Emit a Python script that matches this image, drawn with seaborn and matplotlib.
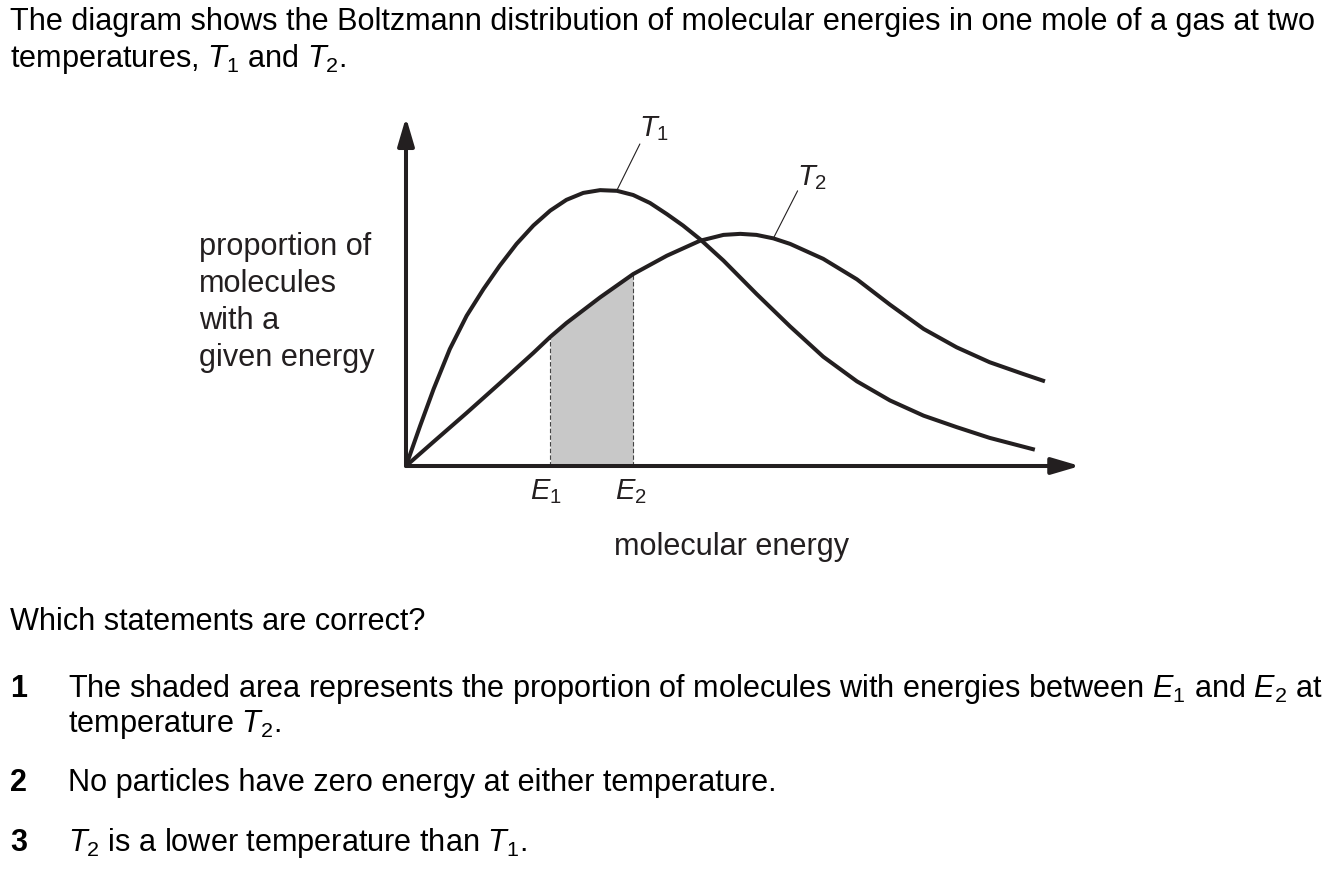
import numpy as np
import matplotlib.pyplot as plt
import seaborn as sns

# Curves (energy, proportion) in arbitrary units
energyT1 = [0, 0.21, 0.41, 0.65, 0.90, 1.15, 1.39, 1.64, 1.89, 2.14, 2.38,
            2.63, 2.88, 3.13, 3.37, 3.62, 3.87, 4.11, 4.36, 4.71, 5.20,
            5.70, 6.19, 6.69, 7.18, 7.68, 8.17, 8.66, 9.33]
propT1 = [0, 1.16, 2.22, 3.37, 4.33, 5.10, 5.77, 6.40, 6.93, 7.36, 7.67,
          7.87, 7.95, 7.93, 7.81, 7.58, 7.26, 6.93, 6.54, 5.92, 4.96,
          4.02, 3.15, 2.44, 1.89, 1.45, 1.12, 0.81, 0.47]

energyT2 = [0, 0.41, 0.90, 1.39, 1.89, 2.14, 2.38, 2.88, 3.37, 3.87, 4.36,
            4.71, 4.96, 5.20, 5.45, 5.70, 6.19, 6.69, 7.18, 7.68, 8.17,
            8.66, 9.16, 9.48]
propT2 = [0, 0.70, 1.53, 2.38, 3.26, 3.72, 4.12, 4.86, 5.53, 6.06, 6.49,
          6.66, 6.69, 6.66, 6.56, 6.40, 5.97, 5.38, 4.65, 3.95, 3.42,
          2.99, 2.65, 2.44]

E1, E2 = 2.14, 3.37

yLabelLines = ["proportion of", "molecules", "with a", "given energy"]
introLines = ["The diagram shows the Boltzmann distribution of molecular energies in one mole of a gas at two",
              r"temperatures, $T_1$ and $T_2$."]
question = "Which statements are correct?"
statements = [
    ("1", [r"The shaded area represents the proportion of molecules with energies between $E_1$ and $E_2$ at",
           r"temperature $T_2$."]),
    ("2", ["No particles have zero energy at either temperature."]),
    ("3", [r"$T_2$ is a lower temperature than $T_1$."]),
]

INK = '#231f20'
W, H = 1342, 870
FS = 22.1

sns.set_theme(style="white")
plt.rcParams['font.family'] = ['Liberation Sans', 'DejaVu Sans']
plt.rcParams['mathtext.fontset'] = 'custom'
plt.rcParams['mathtext.rm'] = 'Liberation Sans'
plt.rcParams['mathtext.it'] = 'Liberation Sans:italic'
plt.rcParams['mathtext.bf'] = 'Liberation Sans:bold'

fig = plt.figure(figsize=(W / 100, H / 100), dpi=100)
fig.patch.set_facecolor('white')


def fx(px):
    return px / W


def fy(py):
    return 1 - py / H


ax = fig.add_axes([fx(406), fy(467), (1080 - 406) / W, (467 - 120) / H])
ax.set_xlim(0, 10)
ax.set_ylim(0, 10)
ax.axis('off')

# shaded area under T2 between E1 and E2
xT2 = np.array(energyT2)
yT2 = np.array(propT2)
mask = (xT2 >= E1) & (xT2 <= E2)
ax.fill_between(xT2[mask], yT2[mask], color='#c8c8c8', lw=0, zorder=1)
ax.vlines([E1, E2], 0, [yT2[xT2 == E1][0], yT2[xT2 == E2][0]],
          colors='#444444', linestyles=(0, (4, 2)), lw=0.8, zorder=2)

sns.lineplot(x=energyT1, y=propT1, ax=ax, color=INK, lw=2.9, estimator=None, sort=False, zorder=3)
sns.lineplot(x=energyT2, y=propT2, ax=ax, color=INK, lw=2.9, estimator=None, sort=False, zorder=3)
for line in ax.lines:
    line.set_solid_joinstyle('round')
    line.set_solid_capstyle('butt')

# axes with arrowheads
arrow = dict(arrowstyle='-|>,head_length=1.7,head_width=0.5', lw=2.9, color=INK,
             mutation_scale=10, shrinkA=0, shrinkB=0)
ax.annotate('', xy=(10, 0), xytext=(0, 0), arrowprops=arrow, annotation_clip=False)
ax.annotate('', xy=(0, 10.05), xytext=(0, 0), arrowprops=arrow, annotation_clip=False)

# curve labels with leader lines
ax.plot([3.13, 3.47], [7.95, 9.28], color=INK, lw=0.8)
ax.plot([5.45, 5.81], [6.56, 7.93], color=INK, lw=0.8)
ax.text(3.45, 9.52, r"$T_1$", fontsize=21, color=INK, va='baseline', ha='left')
ax.text(5.80, 8.13, r"$T_2$", fontsize=21, color=INK, va='baseline', ha='left')

# energy markers
ax.annotate(r"$E_1$", xy=(E1, 0), xytext=(-4, -32), textcoords='offset pixels',
            fontsize=21, color=INK, ha='center', va='baseline', annotation_clip=False)
ax.annotate(r"$E_2$", xy=(E2, 0), xytext=(-2, -32), textcoords='offset pixels',
            fontsize=21, color=INK, ha='center', va='baseline', annotation_clip=False)

# axis titles
fig.text(fx(732), fy(555), "molecular energy", fontsize=FS, color=INK, ha='center', va='baseline')
for i, line in enumerate(yLabelLines):
    fig.text(fx(199), fy(255 + 37 * i), line, fontsize=FS, color=INK, va='baseline')

# question text
for i, line in enumerate(introLines):
    fig.text(fx(10), fy(30 + 37 * i), line, fontsize=FS, color='black', va='baseline')
fig.text(fx(10), fy(630), question, fontsize=FS, color='black', va='baseline')

rowY = [697, 791, 851]
for (num, lines), y0 in zip(statements, rowY):
    fig.text(fx(10), fy(y0), num, fontsize=FS, fontweight='bold', color='black', va='baseline')
    for j, line in enumerate(lines):
        fig.text(fx(68), fy(y0 + 35 * j), line, fontsize=FS, color='black', va='baseline')

fig.savefig('out.png', dpi=100, facecolor='white')
